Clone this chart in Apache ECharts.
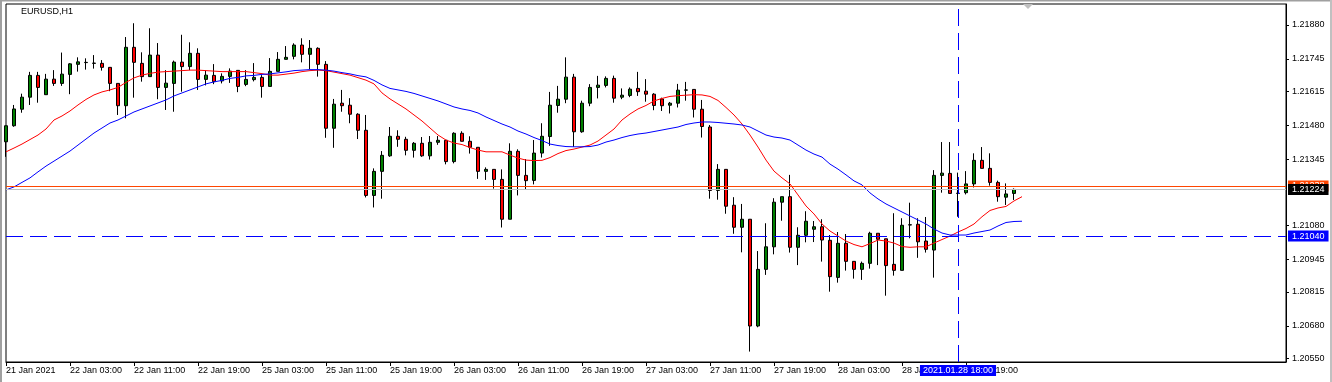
<!DOCTYPE html>
<html>
<head>
<meta charset="utf-8">
<script src="https://cdn.jsdelivr.net/npm/echarts@6/dist/echarts.min.js"></script>
<style>
html,body{margin:0;padding:0;background:#fff;}
#chart{width:1332px;height:382px;}
</style>
</head>
<body>
<div id="chart"></div>
<script>
// ---- data (EURUSD H1) ----
const xTickLabels = ['21 Jan 2021','22 Jan 03:00','22 Jan 11:00','22 Jan 19:00','25 Jan 03:00','25 Jan 11:00','25 Jan 19:00','26 Jan 03:00','26 Jan 11:00','26 Jan 19:00','27 Jan 03:00','27 Jan 11:00','27 Jan 19:00','28 Jan 03:00','28 Jan 11:00','28 Jan 19:00'];
const yTickValues = [1.20550,1.20680,1.20815,1.20945,1.21080,1.21345,1.21480,1.21615,1.21745,1.21880];

const opens = [
1.21414,1.21478,1.21544,1.21592,1.21679,1.21602,1.21664,1.21647,1.21683,1.21723,
1.21730,1.21727,1.21727,1.21711,1.21647,1.21558,1.21791,1.21727,1.21674,1.21760,
1.21631,1.21647,1.21732,1.21714,1.21767,1.21663,1.21679,1.21657,1.21675,1.21699,
1.21643,1.21662,1.21671,1.21635,1.21695,1.21743,1.21755,1.21800,1.21763,1.21787,
1.21723,1.21468,1.21568,1.21560,1.21524,1.21460,1.21200,1.21296,1.21358,1.21436,
1.21424,1.21380,1.21408,1.21358,1.21412,1.21420,1.21335,1.21448,1.21416,1.21392,
1.21296,1.21304,1.21264,1.21105,1.21376,1.21280,1.21260,1.21369,1.21435,1.21559,
1.21584,1.21672,1.21454,1.21568,1.21631,1.21639,1.21667,1.21592,1.21599,1.21627,
1.21616,1.21604,1.21585,1.21560,1.21568,1.21620,1.21623,1.21544,1.21473,1.21220,
1.21304,1.21161,1.21073,1.21105,1.20679,1.20905,1.20995,1.21173,1.21195,1.20993,
1.21041,1.21065,1.21075,1.21021,1.20873,1.21009,1.20937,1.20905,1.20929,1.21049,
1.21027,1.20925,1.20901,1.21082,1.21085,1.21018,1.20982,1.21280,1.21288,1.21208,
1.21211,1.21246,1.21340,1.21308,1.21252,1.21193,1.21208];
const closes = [
1.21478,1.21545,1.21592,1.21679,1.21631,1.21664,1.21647,1.21684,1.21725,1.21733,
1.21731,1.21728,1.21711,1.21647,1.21558,1.21791,1.21731,1.21674,1.21760,1.21631,
1.21648,1.21732,1.21714,1.21767,1.21663,1.21680,1.21654,1.21675,1.21696,1.21635,
1.21663,1.21671,1.21635,1.21695,1.21743,1.21751,1.21800,1.21763,1.21787,1.21723,
1.21468,1.21564,1.21558,1.21524,1.21460,1.21200,1.21296,1.21360,1.21436,1.21424,
1.21380,1.21408,1.21358,1.21412,1.21420,1.21335,1.21448,1.21416,1.21392,1.21296,
1.21304,1.21264,1.21105,1.21376,1.21280,1.21259,1.21369,1.21436,1.21560,1.21584,
1.21672,1.21454,1.21568,1.21631,1.21640,1.21667,1.21588,1.21600,1.21624,1.21614,
1.21604,1.21559,1.21558,1.21568,1.21620,1.21621,1.21544,1.21475,1.21220,1.21304,
1.21157,1.21073,1.21105,1.20679,1.20905,1.20995,1.21173,1.21195,1.20993,1.21041,
1.21097,1.21075,1.21022,1.20876,1.21009,1.20937,1.20905,1.20929,1.21049,1.21025,
1.20920,1.20901,1.21081,1.21083,1.21015,1.20985,1.21280,1.21289,1.21208,1.21209,
1.21246,1.21340,1.21308,1.21252,1.21195,1.21206,1.21224];
const highs = [
1.21478,1.21561,1.21606,1.21693,1.21693,1.21685,1.21700,1.21770,1.21728,1.21751,
1.21747,1.21760,1.21740,1.21711,1.21647,1.21832,1.21887,1.21771,1.21867,1.21808,
1.21700,1.21738,1.21841,1.21811,1.21787,1.21699,1.21724,1.21687,1.21707,1.21699,
1.21700,1.21728,1.21680,1.21748,1.21772,1.21796,1.21807,1.21827,1.21820,1.21791,
1.21736,1.21585,1.21621,1.21588,1.21528,1.21521,1.21308,1.21377,1.21473,1.21460,
1.21434,1.21413,1.21433,1.21437,1.21437,1.21420,1.21452,1.21456,1.21436,1.21392,
1.21312,1.21304,1.21304,1.21408,1.21384,1.21345,1.21421,1.21488,1.21613,1.21637,
1.21751,1.21685,1.21578,1.21644,1.21677,1.21675,1.21678,1.21627,1.21631,1.21693,
1.21664,1.21608,1.21590,1.21573,1.21645,1.21653,1.21623,1.21581,1.21481,1.21325,
1.21304,1.21193,1.21166,1.21105,1.20978,1.21089,1.21189,1.21195,1.21282,1.21073,
1.21137,1.21098,1.21105,1.21042,1.21054,1.21046,1.20937,1.20936,1.21055,1.21049,
1.21027,1.21129,1.21109,1.21171,1.21109,1.21114,1.21301,1.21413,1.21413,1.21291,
1.21297,1.21368,1.21393,1.21368,1.21259,1.21248,1.21228];
const lows = [
1.21354,1.21474,1.21530,1.21561,1.21570,1.21602,1.21637,1.21637,1.21604,1.21694,
1.21702,1.21706,1.21698,1.21616,1.21521,1.21508,1.21590,1.21654,1.21674,1.21584,
1.21541,1.21534,1.21614,1.21700,1.21621,1.21639,1.21644,1.21647,1.21649,1.21612,
1.21636,1.21655,1.21590,1.21635,1.21695,1.21743,1.21743,1.21731,1.21704,1.21674,
1.21430,1.21390,1.21534,1.21488,1.21425,1.21192,1.21152,1.21187,1.21354,1.21394,
1.21360,1.21351,1.21354,1.21343,1.21402,1.21324,1.21328,1.21416,1.21367,1.21266,
1.21262,1.21227,1.21072,1.21105,1.21200,1.21222,1.21244,1.21351,1.21398,1.21530,
1.21568,1.21394,1.21450,1.21556,1.21587,1.21631,1.21570,1.21584,1.21592,1.21597,
1.21574,1.21540,1.21537,1.21527,1.21551,1.21578,1.21511,1.21431,1.21187,1.21183,
1.21127,1.21047,1.20973,1.20577,1.20674,1.20883,1.20965,1.21099,1.20972,1.20922,
1.21013,1.21014,1.20936,1.20816,1.20852,1.20900,1.20868,1.20863,1.20908,1.20922,
1.20800,1.20880,1.20901,1.21029,1.20951,1.20972,1.20872,1.21211,1.21208,1.21115,
1.21204,1.21232,1.21308,1.21239,1.21175,1.21162,1.21182];

// moving averages (one value per bar slot)
const maFast = [
1.21374,1.21389,1.21405,1.21423,1.21441,1.21465,1.21501,1.21517,1.21537,1.21561,
1.21583,1.21601,1.21613,1.21621,1.21631,1.21651,1.21669,1.21680,1.21687,1.21692,
1.21694,1.21696,1.21698,1.21700,1.21700,1.21698,1.21696,1.21694,1.21694,1.21694,
1.21694,1.21690,1.21686,1.21680,1.21680,1.21684,1.21688,1.21694,1.21698,1.21700,
1.21698,1.21692,1.21686,1.21680,1.21670,1.21660,1.21645,1.21609,1.21585,1.21565,
1.21545,1.21521,1.21497,1.21469,1.21441,1.21421,1.21409,1.21403,1.21391,1.21381,
1.21374,1.21374,1.21374,1.21361,1.21349,1.21341,1.21339,1.21340,1.21351,1.21367,
1.21379,1.21385,1.21393,1.21401,1.21417,1.21441,1.21465,1.21501,1.21525,1.21545,
1.21559,1.21577,1.21587,1.21595,1.21598,1.21600,1.21602,1.21601,1.21595,1.21579,
1.21551,1.21521,1.21485,1.21441,1.21393,1.21341,1.21297,1.21270,1.21246,1.21202,
1.21158,1.21126,1.21086,1.21058,1.21038,1.21018,1.21004,1.20995,1.21008,1.21022,
1.21018,1.21010,1.20996,1.20993,1.20995,1.20995,1.21010,1.21024,1.21038,1.21054,
1.21068,1.21086,1.21115,1.21140,1.21150,1.21156,1.21178,1.21195];
const maSlow = [
1.21222,1.21234,1.21252,1.21270,1.21294,1.21317,1.21337,1.21357,1.21377,1.21401,
1.21425,1.21449,1.21469,1.21489,1.21501,1.21517,1.21533,1.21545,1.21557,1.21569,
1.21581,1.21597,1.21609,1.21621,1.21633,1.21645,1.21653,1.21659,1.21667,1.21671,
1.21677,1.21679,1.21683,1.21685,1.21689,1.21693,1.21698,1.21700,1.21702,1.21702,
1.21700,1.21696,1.21690,1.21685,1.21678,1.21673,1.21659,1.21641,1.21627,1.21621,
1.21615,1.21607,1.21597,1.21587,1.21577,1.21565,1.21553,1.21545,1.21539,1.21529,
1.21513,1.21499,1.21485,1.21473,1.21457,1.21445,1.21431,1.21419,1.21405,1.21399,
1.21395,1.21394,1.21394,1.21395,1.21401,1.21413,1.21421,1.21431,1.21439,1.21445,
1.21449,1.21455,1.21461,1.21467,1.21473,1.21483,1.21489,1.21493,1.21493,1.21491,
1.21488,1.21485,1.21481,1.21473,1.21457,1.21441,1.21433,1.21429,1.21421,1.21401,
1.21381,1.21365,1.21353,1.21325,1.21305,1.21282,1.21258,1.21242,1.21210,1.21186,
1.21166,1.21150,1.21134,1.21118,1.21102,1.21086,1.21066,1.21050,1.21042,1.21042,
1.21042,1.21050,1.21056,1.21062,1.21078,1.21092,1.21096,1.21097];

const symbolName = 'EURUSD,H1';
const hLineLevel = 1.21238, hLineText = '1.21238';
const bidPrice = 1.21224, bidText = '1.21224';
const crossPrice = 1.21038, crossPriceText = '1.21040';
const crossBar = 119, crossTimeText = '2021.01.28 18:00';
const totalSlots = 161;
const yMin = 1.205354, yMax = 1.219638;

// ---- build ----
const cats = Array.from({length: totalSlots}, (_, i) => String(i));
const candleData = opens.map((o, i) => [o, closes[i], lows[i], highs[i]]);
const showX = (i) => i % 8 === 0 && (i / 8) < xTickLabels.length;
const FONT = 'Liberation Sans, Arial, sans-serif';
const boxLabel = (text, bg, pos, pad) => ({show: true, position: pos, distance: pos === 'end' ? 2 : 3, formatter: text,
  backgroundColor: bg, color: '#fff', fontSize: 9, fontFamily: FONT, padding: pad, lineHeight: 10});

const chart = echarts.init(document.getElementById('chart'), null, {renderer: 'canvas'});
chart.setOption({
  animation: false,
  backgroundColor: '#ffffff',
  grid: {left: 6, right: 46, top: 4, bottom: 20, show: true, borderColor: '#000', borderWidth: 1, backgroundColor: '#fff'},
  graphic: [
    {type: 'text', left: 21, top: 7, style: {text: symbolName, font: '9px ' + FONT, fill: '#000'}, z: 100},
    {type: 'polygon', shape: {points: [[1023, 4], [1033, 4], [1028, 9]]}, style: {fill: '#c0c0c0'}, z: 100},
    {type: 'rect', shape: {x: 0, y: 0, width: 1332, height: 1.5}, style: {fill: '#a0a0a0'}, z: 100},
    {type: 'rect', shape: {x: 0, y: 0, width: 2, height: 382}, style: {fill: '#a0a0a0'}, z: 100},
    {type: 'rect', shape: {x: 1330, y: 0, width: 2, height: 382}, style: {fill: '#c0c0c0'}, z: 100}
  ],
  xAxis: {
    type: 'category', data: cats, boundaryGap: false,
    axisLine: {show: true, lineStyle: {color: '#000', width: 1}},
    axisTick: {show: true, interval: (i) => showX(i), length: 4, lineStyle: {color: '#000'}},
    axisLabel: {interval: (i) => showX(i), formatter: (v, i) => xTickLabels[i / 8] || '', align: 'left',
      fontSize: 9, fontFamily: FONT, color: '#000', margin: 4},
    splitLine: {show: false}
  },
  yAxis: {
    type: 'value', position: 'right', min: yMin, max: yMax,
    axisLine: {show: true, lineStyle: {color: '#000'}},
    axisTick: {show: true, customValues: yTickValues, length: 3, lineStyle: {color: '#000'}},
    axisLabel: {customValues: yTickValues, formatter: (v) => v.toFixed(5), fontSize: 9, fontFamily: FONT, color: '#000', margin: 6},
    splitLine: {show: false}
  },
  series: [
    {
      type: 'candlestick', data: candleData, barWidth: 4, clip: true, z: 2,
      itemStyle: {color: '#008000', color0: '#ff0000', borderColor: '#000', borderColor0: '#000', borderColorDoji: '#000', borderWidth: 1}
    },
    {type: 'line', data: maFast, showSymbol: false, symbol: 'none', z: 3, lineStyle: {color: '#ff0000', width: 1}, silent: true},
    {type: 'line', data: maSlow, showSymbol: false, symbol: 'none', z: 3, lineStyle: {color: '#0000ff', width: 1}, silent: true,
      markLine: {
        symbol: 'none', silent: true, animation: false, precision: 5,
        data: [
          {yAxis: hLineLevel, lineStyle: {color: '#ff4500', type: 'solid', width: 1}, label: boxLabel(hLineText, '#ff4500', 'end', [1, 4, 0, 4])},
          {yAxis: bidPrice, lineStyle: {color: '#c0c0c0', type: 'solid', width: 1}, label: boxLabel(bidText, '#000', 'end', [1, 4, 0, 4])},
          {yAxis: crossPrice, lineStyle: {color: '#0000ff', type: [17, 7], width: 1}, label: boxLabel(crossPriceText, '#0000ff', 'end', [1, 4, 0, 4])},
          {xAxis: crossBar, lineStyle: {color: '#0000ff', type: [17, 7], width: 1}, label: boxLabel(crossTimeText, '#0000ff', 'start', [1, 3, 0, 3])}
        ]
      }
    }
  ]
});
</script>
</body>
</html>
